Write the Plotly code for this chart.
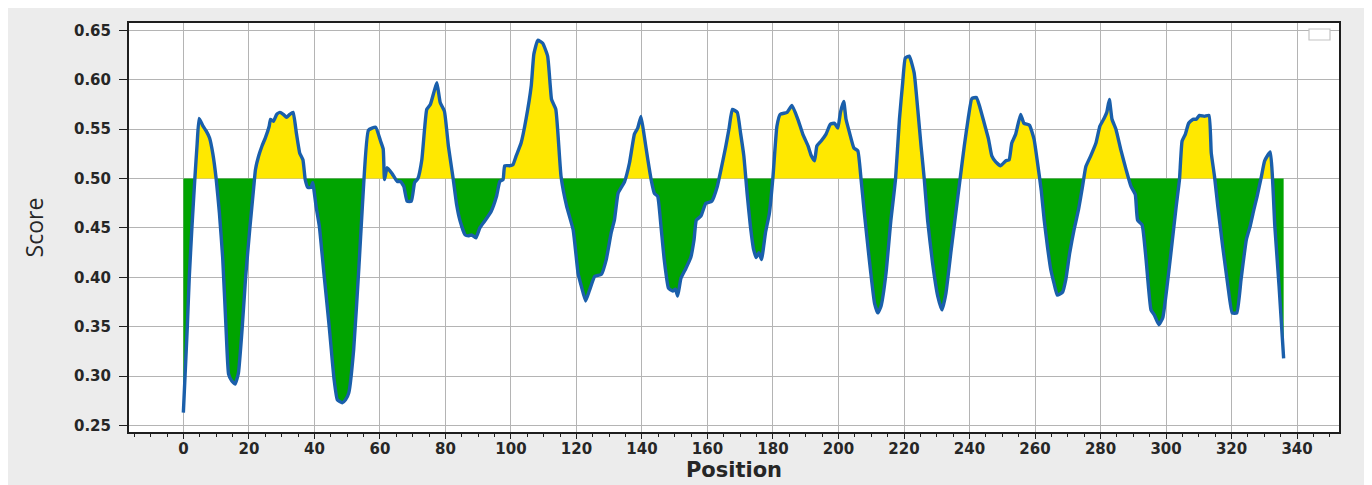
import numpy as np
import plotly.graph_objects as go

# ---- data ----
position = [
    0, 1.2, 1.8, 2.6, 3.5, 4.2, 4.8, 6, 7, 8,
    9, 10, 11, 12, 13, 13.8, 14.8, 15.8, 16.8, 18,
    19, 20.3, 21.5, 22, 23, 24, 25, 26.2, 26.6, 27.5,
    28.5, 29.5, 30.5, 31.5, 32.5, 33.5, 34.5, 35.5, 36.5, 37.2,
    38, 39, 39.5, 40.5, 41.5, 43, 44.5, 46, 47, 48.5,
    49.5, 50.5, 52, 53.6, 55, 56.5, 58.7, 60.2, 61, 61.4,
    62.2, 63.7, 65.3, 66.3, 67.3, 68.3, 69.6, 70.6, 71.6, 72.8,
    74.3, 75.4, 76.7, 77.4, 78.4, 79.7, 80.9, 82.4, 83.4, 84.4,
    86, 87, 88, 89.3, 90.5, 92, 94, 95.6, 96.6, 97.6,
    98.1, 99.6, 100.6, 101.6, 103.1, 104.6, 106.2, 107, 108.2, 109.7,
    111.2, 112, 112.4, 113.7, 115.3, 117, 119, 120.5, 121.5, 122.8,
    124, 125.6, 127.6, 129.1, 130.6, 131.6, 132.7, 133.7, 134.7, 136.2,
    137.7, 138.7, 139.7, 140.7, 141.8, 142.8, 143.8, 144.8, 145.8, 146.8,
    148.1, 149.4, 150.2, 150.9, 151.9, 153.4, 154.9, 155.9, 156.6, 158,
    159.5, 161.3, 163, 164, 165.5, 166.6, 167.6, 169.1, 170.1, 171.1,
    172.1, 173.1, 174.1, 174.9, 175.7, 176.5, 177.7, 178.9, 180, 181.2,
    182.2, 184.3, 185.8, 187.6, 189.1, 190.7, 191.7, 192.7, 193.4, 194.7,
    196.2, 197.5, 198.8, 199.8, 200.6, 201.6, 202.3, 203.4, 204.7, 205.9,
    206.9, 207.9, 209.4, 211, 212, 213, 214.5, 216, 217.4, 218.6,
    219.6, 220.4, 221.6, 223.1, 224.2, 225.2, 226.2, 227.2, 228.7, 230.3,
    231.6, 232.8, 234.3, 235.8, 237.1, 238.4, 239.7, 240.7, 242.1, 243.1,
    244.5, 245.8, 246.8, 248, 249.5, 251.1, 252.1, 252.9, 254.1, 255.6,
    256.6, 258.3, 259.7, 260.8, 261.9, 262.8, 263.8, 264.8, 265.8, 266.8,
    268.4, 269.4, 270.6, 271.9, 273.3, 274.5, 275.5, 277, 278.6, 279.8,
    281.1, 281.9, 282.7, 283.5, 284.7, 286.2, 287.8, 289.3, 290.6, 291.3,
    292.7, 293.9, 295.4, 296.4, 297.8, 299, 300.2, 301.5, 303.1, 304.1,
    304.9, 305.9, 306.9, 308.2, 309.2, 310.2, 311.7, 313.1, 313.8, 314.8,
    315.8, 317.3, 318.9, 320.2, 321.6, 322.9, 324.5, 325.7, 326.7, 327.8,
    329.1, 330.1, 331.8, 333.2, 334.5, 335.9,
]
score = [
    .263, .350, .400, .450, .500, .535, .561, .553, .548, .541,
    .525, .500, .465, .420, .350, .302, .295, .292, .303, .351,
    .400, .450, .492, .509, .523, .533, .541, .553, .560, .558,
    .565, .567, .565, .562, .565, .567, .546, .526, .519, .499,
    .491, .491, .496, .472, .452, .401, .351, .297, .276, .273,
    .276, .283, .327, .411, .492, .549, .552, .538, .530, .499,
    .511, .505, .497, .497, .492, .477, .477, .496, .500, .519,
    .570, .575, .590, .597, .577, .568, .533, .499, .474, .458,
    .443, .442, .443, .440, .450, .457, .467, .482, .497, .499,
    .513, .513, .514, .523, .536, .560, .594, .626, .640, .637,
    .624, .594, .580, .570, .502, .472, .448, .404, .391, .376,
    .387, .401, .403, .418, .445, .458, .485, .491, .497, .516,
    .545, .551, .563, .543, .519, .499, .485, .482, .452, .418,
    .389, .386, .388, .381, .399, .409, .420, .438, .458, .462,
    .475, .477, .492, .507, .531, .551, .570, .567, .546, .523,
    .485, .452, .428, .420, .425, .418, .445, .465, .502, .553,
    .565, .567, .574, .560, .545, .533, .523, .518, .533, .538,
    .545, .555, .556, .551, .567, .578, .560, .546, .531, .528,
    .499, .465, .418, .374, .364, .371, .404, .458, .499, .560,
    .597, .622, .624, .607, .570, .533, .499, .458, .415, .381,
    .367, .384, .425, .465, .499, .533, .563, .581, .582, .573,
    .556, .540, .523, .517, .513, .518, .519, .536, .545, .565,
    .556, .554, .540, .515, .488, .458, .431, .408, .394, .382,
    .385, .398, .425, .448, .469, .492, .512, .523, .536, .553,
    .561, .567, .580, .560, .550, .529, .509, .492, .484, .458,
    .453, .418, .367, .362, .352, .359, .388, .425, .472, .499,
    .538, .545, .556, .560, .560, .564, .563, .564, .526, .502,
    .472, .431, .391, .364, .364, .398, .438, .452, .467, .482,
    .502, .518, .527, .452, .391, .318,
]
threshold = 0.5

x_ticks = list(range(0, 341, 20))
y_ticks = [0.25, 0.30, 0.35, 0.40, 0.45, 0.50, 0.55, 0.60, 0.65]
y_tick_labels = ["0.25", "0.30", "0.35", "0.40", "0.45", "0.50", "0.55", "0.60", "0.65"]

# ---- add threshold crossings so the fills meet the line cleanly ----
xs, ys = [], []
for i in range(len(position)):
    if i > 0:
        y0, y1 = score[i - 1], score[i]
        if (y0 - threshold) * (y1 - threshold) < 0:
            t = (threshold - y0) / (y1 - y0)
            xs.append(position[i - 1] + t * (position[i] - position[i - 1]))
            ys.append(threshold)
    xs.append(position[i])
    ys.append(score[i])
ys = np.array(ys)
above = np.maximum(ys, threshold)
below = np.minimum(ys, threshold)
base = np.full(len(xs), threshold)

YELLOW = "#ffe800"
GREEN = "#00a400"
BLUE = "#1a5fab"
INK = "#262626"

fig = go.Figure()
fig.add_trace(go.Scatter(x=xs, y=base, mode="lines", line=dict(width=0), hoverinfo="skip", showlegend=False))
fig.add_trace(go.Scatter(x=xs, y=above, mode="lines", line=dict(width=0), fill="tonexty",
                         fillcolor=YELLOW, hoverinfo="skip", showlegend=False))
fig.add_trace(go.Scatter(x=xs, y=base, mode="lines", line=dict(width=0), hoverinfo="skip", showlegend=False))
fig.add_trace(go.Scatter(x=xs, y=below, mode="lines", line=dict(width=0), fill="tonexty",
                         fillcolor=GREEN, hoverinfo="skip", showlegend=False))
fig.add_trace(go.Scatter(x=position, y=score, mode="lines",
                         line=dict(color=BLUE, width=3.4, shape="spline", smoothing=0.4),
                         name="Score", showlegend=False))

# The page places the figure 8 px in from the top-left corner (body margin),
# so the figure is 8 px smaller and the margins are measured in figure pixels.
OFF = 8
W, H = 1372 - OFF, 485 - OFF
L, R, T, B = 129 - OFF, 33, 23 - OFF, 53
pw, ph = W - L - R, H - T - B

def px_x(p):
    return (p - OFF - L) / pw

def px_y(p):
    return (H - B - (p - OFF)) / ph

shapes = [
    # light grey figure background
    dict(type="rect", xref="paper", yref="paper", layer="below",
         x0=px_x(OFF), x1=px_x(1366), y0=px_y(485), y1=px_y(OFF),
         fillcolor="#ececec", line=dict(width=0)),
    # white plotting area
    dict(type="rect", xref="paper", yref="paper", layer="below",
         x0=0, x1=1, y0=0, y1=1, fillcolor="white", line=dict(width=0)),
    # empty legend box in the upper right corner
    dict(type="rect", xref="paper", yref="paper", layer="above",
         x0=px_x(1309), x1=px_x(1330), y0=px_y(40), y1=px_y(29),
         fillcolor="white", line=dict(color="#c4c4c4", width=1.2)),
]

tick_font = dict(family="DejaVu Sans", size=15, color=INK, weight="bold")

axis_common = dict(
    automargin=False,
    showline=True, linecolor="#1e1e1e", linewidth=2, mirror=True,
    showgrid=True, gridcolor="#b4b4b4", gridwidth=1.4, zeroline=False,
    ticks="outside", tickcolor="#1e1e1e", tickwidth=1.3,
    tickfont=tick_font,
)

fig.update_layout(
    width=W, height=H,
    margin=dict(l=L, r=R, t=T, b=B),
    paper_bgcolor="#ececec", plot_bgcolor="white",
    shapes=shapes,
    showlegend=False,
    xaxis=dict(
        range=[-16.6, 352.8], tickvals=x_ticks, ticklen=5,
        ticklabelstandoff=-3,
        minor=dict(dtick=5, tick0=0, ticks="outside", ticklen=2.5, tickcolor="#1e1e1e", showgrid=False),
        title=dict(text="Position", font=dict(family="DejaVu Sans", size=21, color=INK, weight="bold"), standoff=2),
        **axis_common,
    ),
    yaxis=dict(
        range=[0.2434, 0.6575], tickvals=y_ticks, ticktext=y_tick_labels, ticklen=8,
        ticklabelstandoff=5,
        title=dict(text="Score", font=dict(family="Open Sans", size=23, color=INK), standoff=24),
        **axis_common,
    ),
)

fig.write_html("out.html")
